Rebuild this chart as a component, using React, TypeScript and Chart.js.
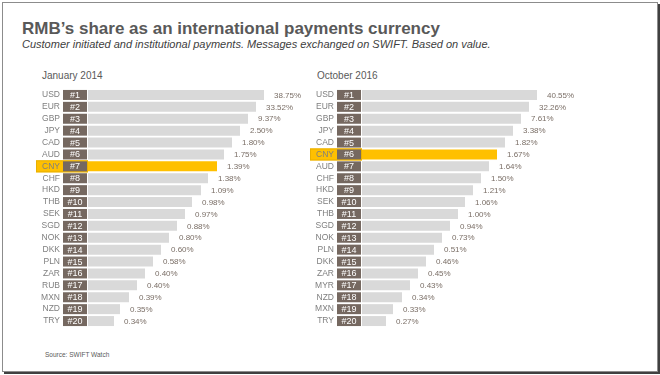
import React, { useEffect, useRef } from 'react';
import { Chart, registerables } from 'chart.js';

Chart.register(...registerables);

// ---- Data ----
const janCurrencies = ['USD', 'EUR', 'GBP', 'JPY', 'CAD', 'AUD', 'CNY', 'CHF', 'HKD', 'THB', 'SEK', 'SGD', 'NOK', 'DKK', 'PLN', 'ZAR', 'RUB', 'MXN', 'NZD', 'TRY'];
const janShares = [38.75, 33.52, 9.37, 2.5, 1.8, 1.75, 1.39, 1.38, 1.09, 0.98, 0.97, 0.88, 0.8, 0.6, 0.58, 0.4, 0.4, 0.39, 0.35, 0.34];
// bar lengths are rank-based (decorative)
const janBarLengths = [176, 168, 160, 152, 144, 136, 129, 120, 113, 104, 97, 89, 81, 73, 65, 57, 49, 41, 32, 26];

const octCurrencies = ['USD', 'EUR', 'GBP', 'JPY', 'CAD', 'CNY', 'AUD', 'CHF', 'HKD', 'SEK', 'THB', 'SGD', 'NOK', 'PLN', 'DKK', 'ZAR', 'MYR', 'NZD', 'MXN', 'TRY'];
const octShares = [40.55, 32.26, 7.61, 3.38, 1.82, 1.67, 1.64, 1.5, 1.21, 1.06, 1.0, 0.94, 0.73, 0.51, 0.46, 0.45, 0.43, 0.34, 0.33, 0.27];
const octBarLengths = [175, 167, 159, 151, 143, 135, 127, 119, 111, 103, 96, 88, 80, 72, 64, 56, 48, 40, 31, 24];

const highlightCurrency = 'CNY';

const FONT = "'Liberation Sans', Arial, sans-serif";
const BAR_GREY = '#D9D9D9';
const GOLD = '#FFC000';
const RANK_BROWN = '#756860';

type PanelProps = {
  currencies: string[];
  shares: number[];
  lengths: number[];
  left: number;
  top: number;
};

function Panel({ currencies, shares, lengths, left, top }: PanelProps) {
  const ref = useRef<HTMLCanvasElement | null>(null);

  useEffect(() => {
    if (!ref.current) return;
    const hi = currencies.indexOf(highlightCurrency);

    const deco = {
      id: 'panelDeco',
      beforeDraw(chart: any) {
        const { ctx, chartArea } = chart;
        const meta = chart.getDatasetMeta(0);
        const el = meta.data[hi];
        if (!el) return;
        const p = el.getProps(['y', 'height'], true);
        ctx.save();
        ctx.fillStyle = GOLD;
        ctx.fillRect(chartArea.left - 52, p.y - 6, 52, 12);
        ctx.strokeStyle = '#E9B000';
        ctx.lineWidth = 1;
        ctx.strokeRect(chartArea.left - 51.5, p.y - 5.5, 51, 11);
        ctx.restore();
      },
      afterDatasetsDraw(chart: any) {
        const { ctx, chartArea } = chart;
        const meta = chart.getDatasetMeta(0);
        ctx.save();
        meta.data.forEach((el: any, i: number) => {
          const p = el.getProps(['x', 'y', 'height'], true);
          const h = p.height;
          ctx.fillStyle = RANK_BROWN;
          ctx.fillRect(chartArea.left - 25, p.y - h / 2, 24, h);
          ctx.fillStyle = '#ffffff';
          ctx.font = `9px ${FONT}`;
          ctx.textAlign = 'center';
          ctx.textBaseline = 'middle';
          ctx.fillText('#' + (i + 1), chartArea.left - 13, p.y + 0.5);
          ctx.fillStyle = '#7a6e66';
          ctx.font = `8px ${FONT}`;
          ctx.textAlign = 'left';
          ctx.fillText(shares[i].toFixed(2) + '%', p.x + 10, p.y + 0.5);
        });
        ctx.restore();
      },
    };

    const chart = new Chart(ref.current, {
      type: 'bar',
      data: {
        labels: currencies,
        datasets: [
          {
            data: lengths,
            backgroundColor: currencies.map((c) => (c === highlightCurrency ? GOLD : BAR_GREY)),
            borderWidth: 0,
            categoryPercentage: 1,
            barPercentage: 0.84,
          },
        ],
      },
      options: {
        indexAxis: 'y',
        responsive: false,
        animation: false,
        devicePixelRatio: 1,
        layout: { padding: { left: 0, right: 12, top: 4, bottom: 3 } },
        plugins: {
          legend: { display: false },
          tooltip: { enabled: false },
          title: { display: false },
        },
        scales: {
          x: { display: false, min: 0, max: 230 },
          y: {
            grid: { display: false, drawTicks: false, tickLength: 0 },
            border: { display: false },
            ticks: {
              autoSkip: false,
              padding: 28,
              color: '#7f7f7f',
              font: { family: FONT, size: 8.5 },
            },
            afterFit: (s: any) => {
              s.width = 88;
              s.paddingTop = 0;
              s.paddingBottom = 0;
            },
          },
        },
      },
      plugins: [deco],
    } as any);

    return () => chart.destroy();
  }, []);

  return (
    <canvas
      ref={ref}
      width={330}
      height={245}
      style={{ position: 'absolute', left, top, width: 330, height: 245 }}
    />
  );
}

export default function App() {
  return (
    <div
      style={{
        position: 'absolute',
        left: 0,
        top: 0,
        width: 660,
        height: 375,
        background: '#ffffff',
        overflow: 'hidden',
        fontFamily: FONT,
      }}
    >
      <div
        style={{
          position: 'absolute',
          left: 2,
          top: 2,
          width: 656,
          height: 370,
          boxSizing: 'border-box',
          border: '1px solid #8c8c8c',
          boxShadow: '2px 2px 0 #404040',
        }}
      />
      <div
        style={{
          position: 'absolute',
          left: 22,
          top: 19,
          fontSize: 17,
          lineHeight: '19px',
          fontWeight: 'bold',
          color: '#595959',
          whiteSpace: 'nowrap',
        }}
      >
        RMB’s share as an international payments currency
      </div>
      <div
        style={{
          position: 'absolute',
          left: 22,
          top: 38,
          fontSize: 11,
          lineHeight: '13px',
          fontStyle: 'italic',
          color: '#404040',
          whiteSpace: 'nowrap',
        }}
      >
        Customer initiated and institutional payments. Messages exchanged on SWIFT. Based on value.
      </div>
      <div
        style={{ position: 'absolute', left: 42, top: 70, fontSize: 10, lineHeight: '12px', color: '#595959', whiteSpace: 'nowrap' }}
      >
        January 2014
      </div>
      <div
        style={{ position: 'absolute', left: 317, top: 70, fontSize: 10, lineHeight: '12px', color: '#595959', whiteSpace: 'nowrap' }}
      >
        October 2016
      </div>
      <Panel currencies={janCurrencies} shares={janShares} lengths={janBarLengths} left={0} top={85} />
      <Panel currencies={octCurrencies} shares={octShares} lengths={octBarLengths} left={274} top={85} />
      <div
        style={{ position: 'absolute', left: 45, top: 351, fontSize: 6.5, lineHeight: '8px', color: '#595959', whiteSpace: 'nowrap' }}
      >
        Source: SWIFT Watch
      </div>
    </div>
  );
}
